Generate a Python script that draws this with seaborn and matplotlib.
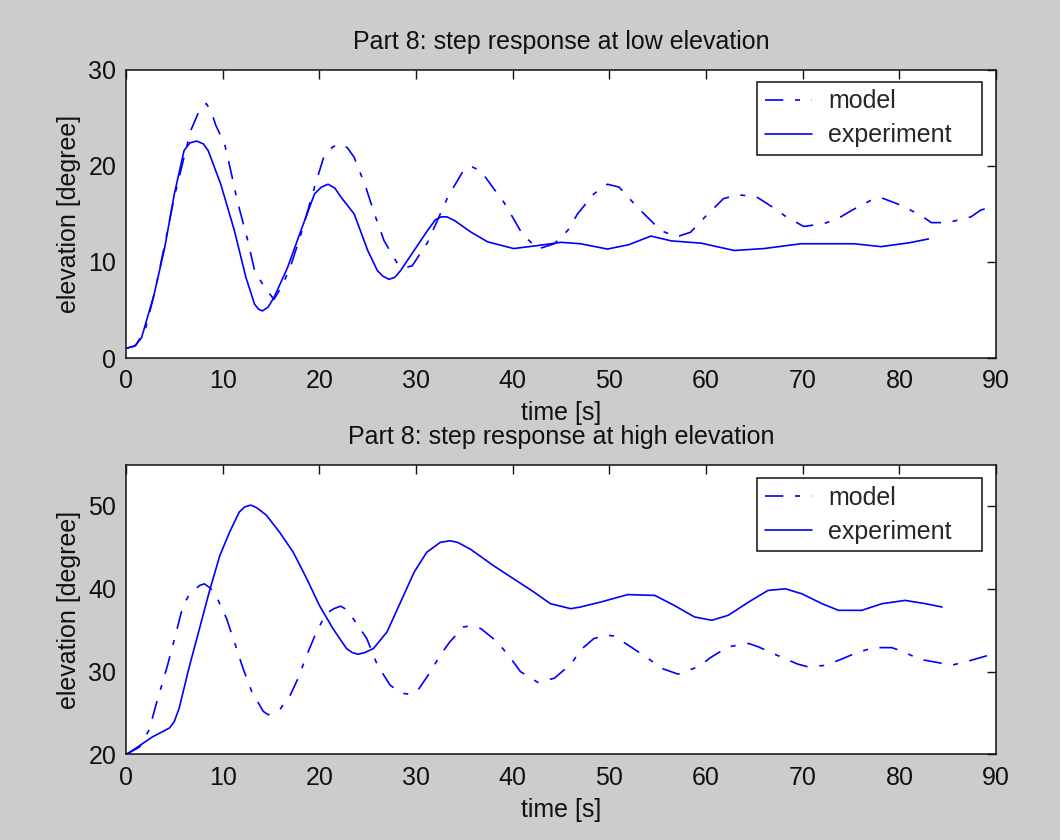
import matplotlib
matplotlib.use("Agg")
import matplotlib.pyplot as plt
import seaborn as sns
import pandas as pd

# step response at low elevation
low_exp_t = [0, 0.9, 1.6, 2.9, 4.0, 5.0, 6.0, 6.6, 7.3, 8.0, 8.5, 9.8, 11.2, 12.4, 13.3, 13.7,
             14.1, 14.7, 15.3, 16.7, 18.1, 19.5, 20.2, 20.9, 21.6, 22.2, 23.6, 25.0, 26.0,
             26.6, 27.2, 27.8, 28.4, 29.8, 31.2, 32.0, 32.6, 33.2, 34.0, 35.7, 37.4, 40.1,
             42.5, 45.0, 47.0, 49.8, 52.0, 54.3, 56.4, 59.5, 62.9, 66.0, 69.8, 75.3, 78.1,
             81.0, 83.0]
low_exp_y = [1.0, 1.25, 2.1, 6.6, 11.5, 17.1, 21.6, 22.4, 22.6, 22.3, 21.6, 18.1, 13.3, 8.4,
             5.6, 5.1, 4.9, 5.3, 6.3, 9.4, 13.3, 17.1, 17.8, 18.1, 17.7, 16.8, 15.0, 11.2, 9.1,
             8.5, 8.2, 8.4, 9.1, 11.2, 13.3, 14.4, 14.7, 14.7, 14.3, 13.1, 12.1, 11.4, 11.7,
             12.05, 11.9, 11.35, 11.8, 12.7, 12.2, 11.96, 11.2, 11.4, 11.9, 11.9, 11.6, 12.0,
             12.4]
low_mod_t = [0, 1, 2, 3, 4, 5, 6, 6.7, 7.5, 7.9, 8.3, 8.8, 9.3, 10.2, 10.9, 11.5, 12.6, 13.3,
             14.3, 15.3, 16.2, 17.1, 18.1, 19.5, 20.5, 21.4, 22.2, 22.9, 23.6, 24.8, 25.7,
             26.7, 28.1, 28.8, 29.6, 31.2, 33.3, 35.0, 35.8, 36.7, 37.7, 39.1, 40.2, 41.0,
             42.6, 44.3, 45.7, 46.7, 48.4, 49.8, 51.0, 52.9, 53.8, 55.3, 56.9, 58.4, 59.9,
             61.8, 63.3, 65.2, 66.9, 68.3, 70.1, 72.2, 73.6, 75.1, 77.0, 78.1, 80.2, 82.3,
             83.3, 85.0, 87.4, 88.4, 90.0]
low_mod_y = [1.0, 1.3, 3.0, 7.0, 11.8, 16.8, 20.9, 23.7, 25.6, 26.2, 26.5, 25.7, 24.2, 22.3,
             19.2, 16.4, 12.2, 9.1, 7.4, 6.1, 7.6, 9.8, 12.9, 17.8, 21.1, 22.0, 22.3, 21.9,
             20.9, 17.8, 15.0, 12.2, 9.8, 9.4, 9.6, 12.05, 16.8, 19.7, 19.9, 19.5, 18.1, 16.2,
             14.3, 12.9, 11.35, 11.9, 13.3, 15.0, 17.1, 18.1, 17.8, 15.7, 14.8, 13.3, 12.6,
             13.1, 14.7, 16.6, 17.0, 16.8, 15.7, 14.7, 13.7, 14.0, 14.5, 15.4, 16.4, 16.7,
             15.9, 14.8, 14.1, 14.1, 14.7, 15.4, 15.9]

# step response at high elevation
high_exp_t = [0, 1.0, 2.7, 4.5, 5.0, 5.5, 6.5, 7.6, 8.6, 9.7, 10.7, 11.7, 12.3, 12.9, 13.5,
              14.5, 15.9, 17.3, 18.7, 20.0, 21.4, 22.8, 23.4, 24.0, 24.7, 25.6, 27.0, 28.4,
              29.8, 31.1, 32.5, 33.5, 34.3, 35.6, 38.0, 40.1, 42.2, 43.9, 46.0, 47.0, 49.1,
              51.9, 54.7, 56.7, 58.8, 60.6, 62.3, 64.4, 66.4, 68.2, 69.9, 72.0, 73.7, 76.1,
              78.2, 80.6, 82.7, 84.4]
high_exp_y = [20.0, 20.75, 22.1, 23.2, 24.0, 25.6, 30.4, 35.2, 39.6, 44.0, 46.8, 49.25, 49.9,
              50.1, 49.8, 48.9, 46.8, 44.4, 41.2, 38.0, 35.2, 32.8, 32.3, 32.1, 32.3, 32.8,
              34.8, 38.4, 42.0, 44.4, 45.6, 45.8, 45.6, 44.8, 42.8, 41.2, 39.6, 38.2, 37.6,
              37.8, 38.4, 39.3, 39.2, 38.0, 36.6, 36.2, 36.8, 38.4, 39.8, 40.0, 39.4, 38.2,
              37.4, 37.4, 38.2, 38.6, 38.2, 37.8]
high_mod_t = [0, 1.4, 2.4, 3.1, 3.8, 4.3, 5.2, 5.9, 6.5, 7.6, 8.1, 8.7, 9.3, 10.4, 11.2, 12.1,
              13.0, 14.2, 14.7, 15.9, 17.0, 17.8, 18.7, 19.7, 20.7, 21.5, 22.2, 22.8, 23.5,
              24.9, 26.0, 27.3, 28.4, 29.2, 30.1, 31.5, 32.5, 33.5, 34.9, 35.6, 36.7, 38.4,
              39.8, 40.8, 42.6, 44.3, 46.0, 47.2, 48.4, 49.8, 50.5, 52.2, 54.0, 55.4, 57.1,
              59.2, 60.6, 62.3, 64.4, 65.4, 67.3, 69.5, 70.5, 72.3, 74.0, 75.4, 77.3, 79.2,
              80.2, 82.1, 84.4, 85.5, 87.2, 89.6, 90.0]
high_mod_y = [20.0, 20.9, 23.0, 26.0, 28.8, 30.8, 34.8, 38.0, 39.2, 40.4, 40.6, 40.1, 39.2,
              36.4, 33.6, 30.4, 27.6, 25.2, 24.8, 25.4, 27.2, 29.2, 32.0, 34.8, 37.0, 37.6,
              37.9, 37.5, 36.4, 34.0, 30.8, 28.4, 27.4, 27.3, 27.6, 30.0, 32.0, 33.6, 35.4,
              35.5, 35.2, 33.6, 31.6, 30.0, 28.7, 29.2, 30.9, 32.8, 34.0, 34.4, 34.3, 33.0,
              31.6, 30.4, 29.7, 30.6, 31.8, 33.0, 33.4, 33.0, 32.0, 30.9, 30.6, 30.75, 31.5,
              32.2, 32.9, 32.9, 32.5, 31.5, 31.0, 30.8, 31.3, 32.1, 32.3]

panels = [
    ("Part 8: step response at low elevation", low_mod_t, low_mod_y, low_exp_t, low_exp_y,
     (0, 30), [0, 10, 20, 30]),
    ("Part 8: step response at high elevation", high_mod_t, high_mod_y, high_exp_t, high_exp_y,
     (20, 55), [20, 30, 40, 50]),
]
x_ticks = list(range(0, 100, 10))

sns.set_style("white")
plt.rcParams['font.family'] = ['Liberation Sans', 'DejaVu Sans']
plt.rcParams['font.size'] = 18

fig = plt.figure(figsize=(10.6, 8.4), dpi=100, facecolor='#cccccc')
rects = [[0.1189, 0.5738, 0.8208, 0.3429], [0.1189, 0.1018, 0.8208, 0.3452]]
legend_boxes = [(0.7253, 0.7014, 0.2586, 0.2569), (0.7253, 0.697, 0.2586, 0.255)]

for rect, lbox, (title, mt, my, et, ey, ylim, yticks) in zip(rects, legend_boxes, panels):
    ax = fig.add_axes(rect)
    ax.set_facecolor('white')
    df_mod = pd.DataFrame({'t': mt, 'y': my})
    df_exp = pd.DataFrame({'t': et, 'y': ey})
    sns.lineplot(data=df_mod, x='t', y='y', ax=ax, color='#0000ff', lw=1.2,
                 linestyle=(0, (11, 7, 3, 7)), label='model', estimator=None, sort=False)
    sns.lineplot(data=df_exp, x='t', y='y', ax=ax, color='#0000ff', lw=1.2,
                 linestyle='-', label='experiment', estimator=None, sort=False)
    ax.set_xlim(0, 90)
    ax.set_ylim(*ylim)
    ax.set_xticks(x_ticks)
    ax.set_yticks(yticks)
    ax.tick_params(direction='in', length=6.5, width=1, top=True, right=True,
                   labelsize=18, colors='#111111')
    ax.tick_params(axis='x', pad=8)
    ax.tick_params(axis='y', pad=7)
    for sp in ax.spines.values():
        sp.set_visible(True)
        sp.set_color('#111111')
        sp.set_linewidth(1.1)
    ax.set_title(title, fontsize=18, pad=15, color='#111111')
    ax.set_xlabel('time [s]', fontsize=18, labelpad=6, color='#111111')
    ax.set_ylabel('elevation [degree]', fontsize=18, labelpad=5, color='#111111')
    leg = ax.legend(loc='upper left', bbox_to_anchor=lbox, mode='expand', borderaxespad=0,
                    fontsize=18, frameon=True, fancybox=False, framealpha=1,
                    edgecolor='#111111', handlelength=1.9, handletextpad=0.65,
                    borderpad=0.3, labelspacing=0.4)
    leg.get_frame().set_linewidth(1.1)

fig.savefig('out.png', dpi=100, facecolor=fig.get_facecolor())
